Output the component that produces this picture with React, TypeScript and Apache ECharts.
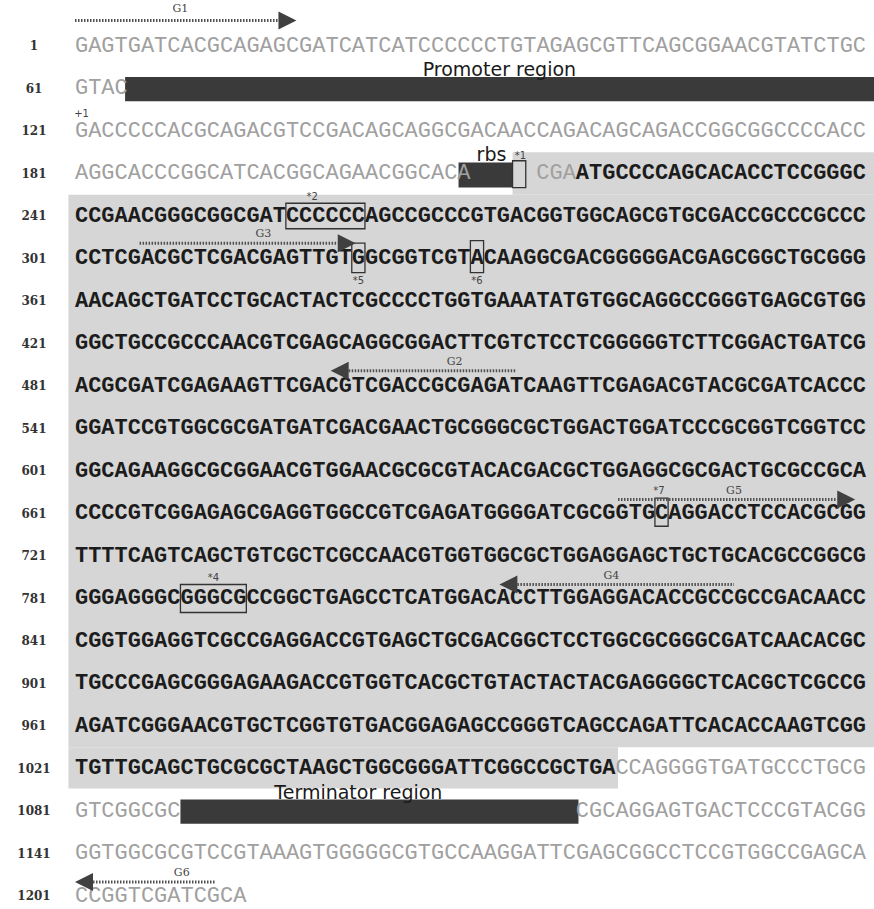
import React, { useEffect, useRef } from "react";
import * as echarts from "echarts";

// ---------- data ----------
const LINE_STARTS = [1, 61, 121, 181, 241, 301, 361, 421, 481, 541, 601, 661, 721, 781, 841, 901, 961, 1021, 1081, 1141, 1201];

const SEQUENCE_ROWS = [
  "GAGTGATCACGCAGAGCGATCATCATCCCCCCTGTAGAGCGTTCAGCGGAACGTATCTGC",
  "GTAC" + " ".repeat(56),
  "GACCCCCACGCAGACGTCCGACAGCAGGCGACAACCAGACAGCAGACCGGCGGCCCCACC",
  "AGGCACCCGGCATCACGGCAGAACGGCACA" + "     " + "CGA" + "ATGCCCCAGCACACCTCCGGGC",
  "CCGAACGGGCGGCGATCCCCCCAGCCGCCCGTGACGGTGGCAGCGTGCGACCGCCCGCCC",
  "CCTCGACGCTCGACGAGTTGTGGCGGTCGTACAAGGCGACGGGGGACGAGCGGCTGCGGG",
  "AACAGCTGATCCTGCACTACTCGCCCCTGGTGAAATATGTGGCAGGCCGGGTGAGCGTGG",
  "GGCTGCCGCCCAACGTCGAGCAGGCGGACTTCGTCTCCTCGGGGGTCTTCGGACTGATCG",
  "ACGCGATCGAGAAGTTCGACGTCGACCGCGAGATCAAGTTCGAGACGTACGCGATCACCC",
  "GGATCCGTGGCGCGATGATCGACGAACTGCGGGCGCTGGACTGGATCCCGCGGTCGGTCC",
  "GGCAGAAGGCGCGGAACGTGGAACGCGCGTACACGACGCTGGAGGCGCGACTGCGCCGCA",
  "CCCCGTCGGAGAGCGAGGTGGCCGTCGAGATGGGGATCGCGGTGCAGGACCTCCACGCGG",
  "TTTTCAGTCAGCTGTCGCTCGCCAACGTGGTGGCGCTGGAGGAGCTGCTGCACGCCGGCG",
  "GGGAGGGCGGGCGCCGGCTGAGCCTCATGGACACCTTGGAGGACACCGCCGCCGACAACC",
  "CGGTGGAGGTCGCCGAGGACCGTGAGCTGCGACGGCTCCTGGCGCGGGCGATCAACACGC",
  "TGCCCGAGCGGGAGAAGACCGTGGTCACGCTGTACTACTACGAGGGGCTCACGCTCGCCG",
  "AGATCGGGAACGTGCTCGGTGTGACGGAGAGCCGGGTCAGCCAGATTCACACCAAGTCGG",
  "TGTTGCAGCTGCGCGCTAAGCTGGCGGGATTCGGCCGCTGACCAGGGGTGATGCCCTGCG",
  "GTCGGCGC" + " ".repeat(30) + "CGCAGGAGTGACTCCCGTACGG",
  "GGTGGCGCGTCCGTAAAGTGGGGGCGTGCCAAGGATTCGAGCGGCCTCCGTGGCCGAGCA",
  "CCGGTCGATCGCA",
];

// coding region [row, col] inclusive
const CODING_FROM = [3, 38];
const CODING_TO = [17, 40];

// shaded coding background: [colFrom, colTo, rowFrom, rowTo]
const SHADE_BANDS = [
  [33.2, 60.7, 2.5, 3.5],
  [-0.5, 60.7, 3.5, 16.5],
  [-0.5, 41.2, 16.5, 17.47],
];

// filled dark boxes: [colFrom, colTo, row, dyTop, dyBottom]
const DARK_BOXES = [
  [3.8, 60.7, 1, -0.27, 0.3],
  [29.1, 33.2, 3, -0.26, 0.33],
  [8.0, 38.2, 18, -0.27, 0.3],
];

// outlined boxes: [colFrom, colTo, row, dyTop, dyBottom]
const OUTLINE_BOXES = [
  [33.2, 34.2, 3, -0.3, 0.33],
  [16, 22, 4, -0.3, 0.3],
  [21, 22, 5, -0.36, 0.33],
  [30, 31, 5, -0.42, 0.33],
  [44, 45, 11, -0.36, 0.3],
  [8, 13, 13, -0.33, 0.33],
];

// small marks: [text], [col, row, dy]
const MARK_TEXTS = ["+1", "*1", "*2", "*5", "*6", "*7", "*4"];
const MARK_POS = [
  [0.5, 2, -0.42],
  [33.8, 3, -0.42],
  [18, 4, -0.45],
  [21.5, 5, 0.52],
  [30.5, 5, 0.52],
  [44.3, 11, -0.55],
  [10.5, 13, -0.5],
];

// region labels: [text], [col, row, dy]
const REGION_TEXTS = ["Promoter region", "rbs", "Terminator region"];
const REGION_POS = [
  [32.2, 1, -0.45],
  [31.6, 3, -0.46],
  [21.5, 18, -0.45],
];

// primer arrows: label; [row, fromCol, toCol, direction, dy, labelCol, labelDy]
const ARROW_LABELS = ["G1", "G3", "G2", "G5", "G4", "G6"];
const ARROW_GEOM = [
  [0, 0, 16.8, 1, -0.6, 8.0, -0.88],
  [5, 4.9, 21.3, 1, -0.36, 14.3, -0.58],
  [8, 19.4, 33.4, -1, -0.36, 28.8, -0.58],
  [11, 41.2, 59.2, 1, -0.33, 50.0, -0.55],
  [13, 32.2, 50.0, -1, -0.33, 40.7, -0.55],
  [20, 0, 10.6, -1, -0.33, 8.1, -0.56],
];

// ---------- geometry ----------
const X0 = 75;
const CW = 13.18;
const Y0 = 46;
const RH = 42.5;
const Y_MIN = -1.07;
const Y_MAX = 20.2;
const NUM_X = 34;
const SEQ_FONT = `${(CW / 0.6).toFixed(2)}px "Liberation Mono"`;

type Seg = { row: number; col: number; text: string; coding: boolean };

function buildSegments(): Seg[] {
  const segs: Seg[] = [];
  const from = CODING_FROM[0] * 60 + CODING_FROM[1];
  const to = CODING_TO[0] * 60 + CODING_TO[1];
  SEQUENCE_ROWS.forEach((s, row) => {
    let cur: Seg | null = null;
    for (let col = 0; col < s.length; col++) {
      const ch = s[col];
      if (ch === " ") {
        cur = null;
        continue;
      }
      const idx = row * 60 + col;
      const coding = idx >= from && idx <= to;
      if (cur && cur.coding === coding) cur.text += ch;
      else {
        cur = { row, col, text: ch, coding };
        segs.push(cur);
      }
    }
  });
  return segs;
}

function txt(x: number, y: number, text: string, font: string, fill: string, align: string) {
  return {
    type: "text",
    x,
    y,
    style: {
      text,
      font,
      fill,
      align,
      verticalAlign: "middle",
      textAlign: align,
      textVerticalAlign: "middle",
    },
  };
}

export default function App() {
  const ref = useRef<HTMLDivElement>(null);

  useEffect(() => {
    if (!ref.current) return;
    const chart = echarts.init(ref.current, undefined, { renderer: "svg" });
    const segs = buildSegments();

    const option: any = {
      animation: false,
      backgroundColor: "#ffffff",
      grid: {
        left: X0,
        top: Y0 + Y_MIN * RH,
        width: 60 * CW,
        height: (Y_MAX - Y_MIN) * RH,
      },
      xAxis: { type: "value", min: 0, max: 60, show: false },
      yAxis: { type: "value", min: Y_MIN, max: Y_MAX, inverse: true, show: false },
      series: [
        {
          type: "custom",
          z: 1,
          silent: true,
          data: SHADE_BANDS.map((b) => [b[0], b[2]]),
          renderItem: (params: any, api: any) => {
            const b = SHADE_BANDS[params.dataIndex];
            const p0 = api.coord([b[0], b[2]]);
            const p1 = api.coord([b[1], b[3]]);
            return {
              type: "rect",
              shape: { x: p0[0], y: p0[1], width: p1[0] - p0[0], height: p1[1] - p0[1] },
              style: { fill: "#d6d6d6" },
            };
          },
        },
        {
          type: "custom",
          z: 2,
          silent: true,
          data: DARK_BOXES.map((b) => [b[0], b[2]]),
          renderItem: (params: any, api: any) => {
            const b = DARK_BOXES[params.dataIndex];
            const p0 = api.coord([b[0], b[2] + b[3]]);
            const p1 = api.coord([b[1], b[2] + b[4]]);
            return {
              type: "rect",
              shape: { x: p0[0], y: p0[1], width: p1[0] - p0[0], height: p1[1] - p0[1] },
              style: { fill: "#3a3a3a" },
            };
          },
        },
        {
          type: "custom",
          z: 3,
          silent: true,
          data: segs.map((s) => [s.col, s.row]),
          renderItem: (params: any, api: any) => {
            const s = segs[params.dataIndex];
            const p = api.coord([s.col, s.row]);
            return txt(
              p[0],
              p[1],
              s.text,
              s.coding ? "bold " + SEQ_FONT : SEQ_FONT,
              s.coding ? "#1c1c1c" : "#a0a0a0",
              "left"
            );
          },
        },
        {
          type: "custom",
          z: 4,
          silent: true,
          data: OUTLINE_BOXES.map((b) => [b[0], b[2]]),
          renderItem: (params: any, api: any) => {
            const b = OUTLINE_BOXES[params.dataIndex];
            const p0 = api.coord([b[0], b[2] + b[3]]);
            const p1 = api.coord([b[1], b[2] + b[4]]);
            return {
              type: "rect",
              shape: { x: p0[0], y: p0[1], width: p1[0] - p0[0], height: p1[1] - p0[1] },
              style: { fill: "none", stroke: "#333333", lineWidth: 1.3 },
            };
          },
        },
        {
          type: "custom",
          z: 5,
          silent: true,
          data: LINE_STARTS.map((_, i) => [0, i]),
          renderItem: (params: any, api: any) => {
            const p = api.coord([0, params.dataIndex]);
            return txt(NUM_X, p[1], String(LINE_STARTS[params.dataIndex]), 'bold 12px "DejaVu Serif"', "#333333", "center");
          },
        },
        {
          type: "custom",
          z: 6,
          silent: true,
          data: ARROW_GEOM.map((a) => [a[1], a[0]]),
          renderItem: (params: any, api: any) => {
            const a = ARROW_GEOM[params.dataIndex];
            const [row, c0, c1, dir, dy, lc, ldy] = a;
            const y = api.coord([0, row + dy])[1];
            const xa = api.coord([c0, 0])[0];
            const xb = api.coord([c1, 0])[0];
            const HL = 18;
            const HH = 9;
            let l0: number, l1: number, pts: number[][];
            if (dir > 0) {
              l0 = xa;
              l1 = xb - HL;
              pts = [[xb - HL, y - HH], [xb, y], [xb - HL, y + HH]];
            } else {
              l0 = xa + HL;
              l1 = xb;
              pts = [[xa + HL, y - HH], [xa, y], [xa + HL, y + HH]];
            }
            const lp = api.coord([lc, row + ldy]);
            return {
              type: "group",
              children: [
                {
                  type: "line",
                  shape: { x1: l0, y1: y, x2: l1, y2: y },
                  style: { stroke: "#505050", lineWidth: 3, lineDash: [1.5, 1.5] },
                },
                { type: "polygon", shape: { points: pts }, style: { fill: "#404040" } },
                txt(lp[0], lp[1], ARROW_LABELS[params.dataIndex], '11px "DejaVu Serif"', "#444444", "center"),
              ],
            };
          },
        },
        {
          type: "custom",
          z: 7,
          silent: true,
          data: MARK_POS.map((m) => [m[0], m[1]]),
          renderItem: (params: any, api: any) => {
            const m = MARK_POS[params.dataIndex];
            const p = api.coord([m[0], m[1] + m[2]]);
            return txt(p[0], p[1], MARK_TEXTS[params.dataIndex], '10px "DejaVu Sans"', "#444444", "center");
          },
        },
        {
          type: "custom",
          z: 8,
          silent: true,
          data: REGION_POS.map((m) => [m[0], m[1]]),
          renderItem: (params: any, api: any) => {
            const m = REGION_POS[params.dataIndex];
            const p = api.coord([m[0], m[1] + m[2]]);
            return txt(p[0], p[1], REGION_TEXTS[params.dataIndex], '19px "DejaVu Sans"', "#1a1a1a", "center");
          },
        },
      ],
    };

    chart.setOption(option);
    return () => {
      chart.dispose();
    };
  }, []);

  return (
    <div
      ref={ref}
      style={{ position: "fixed", left: 0, top: 0, width: 874, height: 909, background: "#fff" }}
    />
  );
}
